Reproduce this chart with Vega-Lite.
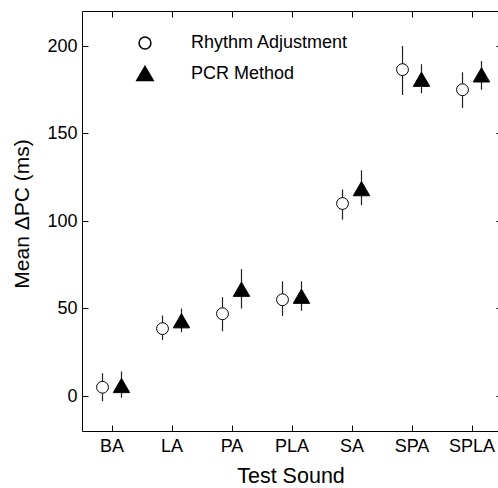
{
  "$schema": "https://vega.github.io/schema/vega-lite/v6.json",
  "width": 420,
  "height": 420,
  "autosize": "none",
  "padding": {"left": 82, "top": 11, "right": -4, "bottom": 57},
  "config": {
    "view": {"stroke": "black", "strokeWidth": 1},
    "font": "Liberation Sans",
    "axis": {
      "grid": false, "domain": false, "tickColor": "black", "tickSize": 6, "offset": -6,
      "labelColor": "black", "titleColor": "black", "labelFont": "Liberation Sans",
      "titleFont": "Liberation Sans", "titleFontWeight": "normal"
    },
    "legend": {
      "orient": "none", "legendX": 54, "legendY": 23, "title": null, "labelFontSize": 18,
      "labelFont": "Liberation Sans", "labelColor": "black",
      "labelOffset": 37, "rowPadding": 10.5, "padding": 0
    }
  },
  "data": {
    "values": [
      {"sound": "BA", "method": "Rhythm Adjustment", "mean": 5, "lo": -3, "hi": 13},
      {"sound": "BA", "method": "PCR Method", "mean": 6, "lo": -1, "hi": 14},
      {"sound": "LA", "method": "Rhythm Adjustment", "mean": 38.5, "lo": 32, "hi": 46},
      {"sound": "LA", "method": "PCR Method", "mean": 43, "lo": 36.5, "hi": 50},
      {"sound": "PA", "method": "Rhythm Adjustment", "mean": 47, "lo": 37, "hi": 56.5},
      {"sound": "PA", "method": "PCR Method", "mean": 61, "lo": 50, "hi": 72.5},
      {"sound": "PLA", "method": "Rhythm Adjustment", "mean": 55, "lo": 45.8, "hi": 65.5},
      {"sound": "PLA", "method": "PCR Method", "mean": 57, "lo": 48.7, "hi": 65.5},
      {"sound": "SA", "method": "Rhythm Adjustment", "mean": 110, "lo": 100.8, "hi": 118},
      {"sound": "SA", "method": "PCR Method", "mean": 118.5, "lo": 109, "hi": 129},
      {"sound": "SPA", "method": "Rhythm Adjustment", "mean": 186.5, "lo": 172, "hi": 200},
      {"sound": "SPA", "method": "PCR Method", "mean": 181, "lo": 173, "hi": 189.6},
      {"sound": "SPLA", "method": "Rhythm Adjustment", "mean": 175, "lo": 164.5, "hi": 185},
      {"sound": "SPLA", "method": "PCR Method", "mean": 183.5, "lo": 175, "hi": 191.4}
    ]
  },
  "layer": [
    {
      "mark": {"type": "rule", "color": "#222222", "strokeWidth": 1.2},
      "encoding": {
        "x": {
          "field": "sound", "type": "nominal",
          "sort": ["BA", "LA", "PA", "PLA", "SA", "SPA", "SPLA"],
          "scale": {"paddingInner": 0, "paddingOuter": 0},
          "axis": {
            "orient": "bottom", "labelAngle": 0, "labelFontSize": 18, "labelPadding": 6,
            "title": "Test Sound", "titleFontSize": 21.5, "titleX": 208.5, "titleY": 57.5,
            "titleAlign": "center", "titleBaseline": "alphabetic"
          }
        },
        "xOffset": {
          "field": "method", "type": "nominal",
          "sort": ["Rhythm Adjustment", "PCR Method"],
          "scale": {"paddingOuter": 0.58, "paddingInner": 0}
        },
        "y": {
          "field": "lo", "type": "quantitative",
          "scale": {"domain": [-20, 220], "nice": false, "zero": false},
          "axis": {
            "orient": "left", "values": [0, 50, 100, 150, 200], "labelFontSize": 18, "labelPadding": 5,
            "title": "Mean ΔPC (ms)", "titleFontSize": 21, "titleX": -66, "titleY": 202.5,
            "titleAlign": "center", "titleBaseline": "middle", "titleAngle": -90
          }
        },
        "y2": {"field": "hi"}
      }
    },
    {
      "mark": {"type": "point", "filled": true, "stroke": "black", "strokeWidth": 1, "opacity": 1},
      "encoding": {
        "x": {
          "field": "sound", "type": "nominal",
          "sort": ["BA", "LA", "PA", "PLA", "SA", "SPA", "SPLA"],
          "axis": {"orient": "top", "labels": false, "title": null}
        },
        "xOffset": {
          "field": "method", "type": "nominal",
          "sort": ["Rhythm Adjustment", "PCR Method"]
        },
        "y": {
          "field": "mean", "type": "quantitative",
          "axis": {"orient": "right", "labels": false, "title": null, "values": [0, 50, 100, 150, 200]}
        },
        "shape": {
          "field": "method", "type": "nominal",
          "scale": {"domain": ["Rhythm Adjustment", "PCR Method"], "range": ["circle", "triangle-up"]},
          "legend": {
            "encode": {"symbols": {"update": {"stroke": {"value": "black"}, "strokeWidth": {"value": 1}, "opacity": {"value": 1}}}}
          }
        },
        "fill": {
          "field": "method", "type": "nominal",
          "scale": {"domain": ["Rhythm Adjustment", "PCR Method"], "range": ["white", "black"]},
          "legend": {
            "encode": {"symbols": {"update": {"stroke": {"value": "black"}, "strokeWidth": {"value": 1}, "opacity": {"value": 1}}}}
          }
        },
        "size": {
          "field": "method", "type": "nominal",
          "scale": {"domain": ["Rhythm Adjustment", "PCR Method"], "range": [140, 270]},
          "legend": {
            "encode": {"symbols": {"update": {"stroke": {"value": "black"}, "strokeWidth": {"value": 1}, "opacity": {"value": 1}}}}
          }
        }
      }
    }
  ],
  "resolve": {"axis": {"x": "independent", "y": "independent"}}
}
